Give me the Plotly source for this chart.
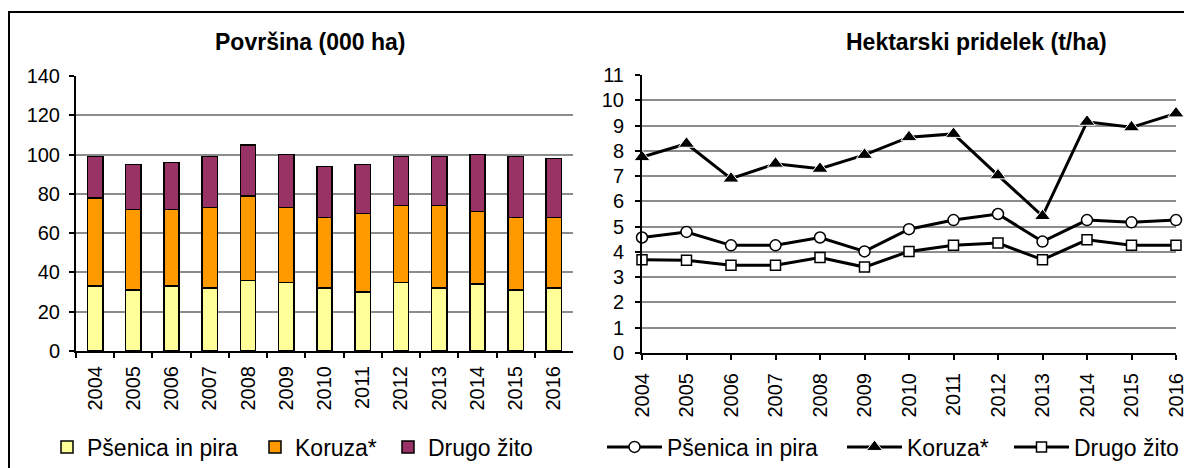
import plotly.graph_objects as go

W, H = 1192, 468
OFF = 8  # page body margin of the browser

years = ["2004", "2005", "2006", "2007", "2008", "2009", "2010",
         "2011", "2012", "2013", "2014", "2015", "2016"]
year_num = [int(y) for y in years]

# Površina (000 ha) - stacked
area_psenica = [33, 31, 33, 32, 36, 35, 32, 30, 35, 32, 34, 31, 32]
area_koruza = [45, 41, 39, 41, 43, 38, 36, 40, 39, 42, 37, 37, 36]
area_drugo = [21, 23, 24, 26, 26, 27, 26, 25, 25, 25, 29, 31, 30]

# Hektarski pridelek (t/ha)
yield_psenica = [4.57, 4.79, 4.26, 4.26, 4.57, 4.02, 4.90, 5.26, 5.50, 4.41, 5.26, 5.17, 5.26]
yield_koruza = [7.75, 8.28, 6.90, 7.49, 7.29, 7.84, 8.54, 8.67, 7.03, 5.42, 9.15, 8.93, 9.48]
yield_drugo = [3.69, 3.67, 3.47, 3.47, 3.78, 3.40, 4.02, 4.26, 4.35, 3.69, 4.48, 4.26, 4.26]

names = ["Pšenica in pira", "Koruza*", "Drugo žito"]
bar_colors = ["#FFFF99", "#FF9900", "#993366"]

FONT = "Liberation Sans, Arial, sans-serif"
GRID = "#8c8c8c"


def px(x):
    return (x - OFF) / W


def py(y):
    return 1 - (y - OFF) / H


fig = go.Figure()

bar_legends = ["legend", "legend2", "legend3"]
for vals, name, col, lg in zip([area_psenica, area_koruza, area_drugo], names, bar_colors, bar_legends):
    fig.add_trace(go.Bar(
        x=years, y=vals, name=name, marker=dict(color=col, line=dict(color="black", width=1.5)),
        xaxis="x", yaxis="y", legend=lg))

line_specs = [
    (yield_psenica, names[0], dict(symbol="circle", size=11, color="white", line=dict(color="black", width=1.5)), "legend4"),
    (yield_koruza, names[1], dict(symbol="triangle-up", size=14, color="black", line=dict(color="white", width=1)), "legend5"),
    (yield_drugo, names[2], dict(symbol="square", size=10, color="white", line=dict(color="black", width=1.5)), "legend6"),
]
for vals, name, mk, lg in line_specs:
    fig.add_trace(go.Scatter(
        x=year_num, y=vals, name=name, mode="lines+markers",
        line=dict(color="black", width=3), marker=mk, cliponaxis=False,
        xaxis="x2", yaxis="y2", legend=lg))

axis_common = dict(showline=True, linecolor="black", linewidth=2, ticks="outside",
                   ticklen=5, tickwidth=1.5, tickcolor="black", automargin=False,
                   tickfont=dict(family=FONT, size=20, color="black"), zeroline=False)

LEG_Y = py(447)


def legend_at(x, itemwidth=30):
    return dict(orientation="h", x=px(x), xanchor="left", y=LEG_Y, yanchor="middle",
                font=dict(family=FONT, size=23, color="black"), bgcolor="rgba(0,0,0,0)",
                itemwidth=itemwidth)


fig.update_layout(
    template="none",
    width=W, height=H,
    margin=dict(l=0, r=0, t=0, b=0, pad=0, autoexpand=False),
    paper_bgcolor="white", plot_bgcolor="white",
    barmode="stack", bargap=0.6,
    font=dict(family=FONT, color="black"),
    xaxis=dict(domain=[px(76), px(573)], anchor="y", type="category",
               tickson="boundaries", tickangle=-90, showgrid=False,
               ticklabelstandoff=5, **axis_common),
    yaxis=dict(domain=[py(351), py(76)], anchor="x", range=[0, 140], dtick=20,
               showgrid=True, gridcolor=GRID, gridwidth=1.5,
               ticklabelstandoff=5, **axis_common),
    xaxis2=dict(domain=[px(642), px(1176)], anchor="y2", range=[2004, 2016],
                tickvals=year_num, ticktext=years, tickangle=-90, showgrid=False,
                ticklabelstandoff=5, **axis_common),
    yaxis2=dict(domain=[py(353), py(75)], anchor="x2", range=[0, 11], dtick=1,
                showgrid=True, gridcolor=GRID, gridwidth=1.5,
                ticklabelstandoff=7, **axis_common),
    legend=legend_at(47),
    legend2=legend_at(255),
    legend3=legend_at(388),
    legend4=legend_at(602, 55),
    legend5=legend_at(842, 55),
    legend6=legend_at(1009, 55),
    showlegend=True,
    annotations=[
        dict(text="<b>Površina (000 ha)</b>", x=px(310), y=py(42), xref="paper", yref="paper",
             xanchor="center", yanchor="middle",
             showarrow=False, font=dict(family=FONT, size=23, color="black")),
        dict(text="<b>Hektarski pridelek (t/ha)</b>", x=px(976), y=py(42), xref="paper", yref="paper",
             xanchor="center", yanchor="middle",
             showarrow=False, font=dict(family=FONT, size=23, color="black")),
    ],
    shapes=[
        dict(type="rect", xref="paper", yref="paper", x0=px(9), y0=-0.05, x1=1.05, y1=py(12),
             line=dict(color="black", width=2), fillcolor="rgba(0,0,0,0)", layer="above"),
    ],
)

fig.write_html("out.html")
